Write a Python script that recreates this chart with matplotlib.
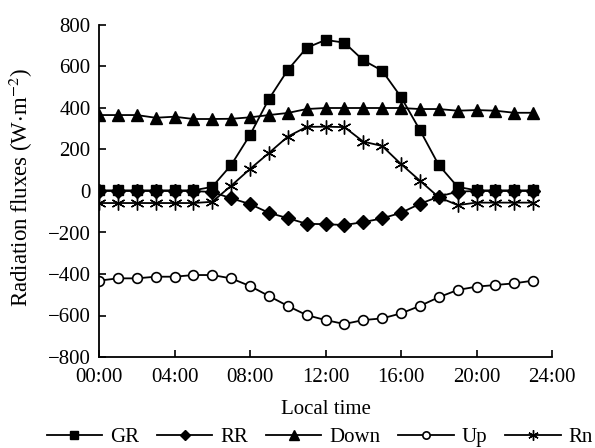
import matplotlib
matplotlib.use("Agg")
import matplotlib.pyplot as plt

plt.rcParams['font.family'] = ['Liberation Serif', 'DejaVu Serif']
plt.rcParams['mathtext.fontset'] = 'stix'

# hourly values, 00:00 .. 23:00
hours = list(range(24))
gr = [3, 3, 3, 3, 3, 3, 20, 125, 270, 443, 583, 690, 728, 715,
      630, 580, 453, 294, 125, 20, 3, 3, 3, 3]
rr = [0, 0, 0, 0, 0, 0, -5, -35, -63, -105, -131, -158, -160, -164,
      -150, -132, -105, -62, -27, -3, 0, 0, 0, 0]
down = [366, 366, 366, 353, 358, 347, 347, 348, 355, 366, 376, 395,
        400, 400, 400, 400, 400, 395, 395, 387, 390, 387, 377, 377]
up = [-432, -421, -421, -413, -413, -405, -405, -421, -458, -506, -554,
      -598, -622, -641, -622, -614, -590, -554, -512, -477, -461, -453,
      -445, -432]
rn = [-58, -58, -58, -58, -58, -58, -52, 25, 106, 183, 262, 309, 310,
      308, 238, 217, 130, 50, -30, -68, -56, -56, -56, -56]

xticks = [0, 4, 8, 12, 16, 20, 24]
xtick_labels = ['00:00', '04:00', '08:00', '12:00', '16:00', '20:00', '24:00']
yticks = list(range(-800, 801, 200))

fs = 15
fig = plt.figure(figsize=(5.95, 4.48), dpi=100)
ax = fig.add_axes([99 / 595, 1 - 357 / 448, 453 / 595, 332 / 448])

lw = 1.3
ax.plot(hours, gr, color='black', lw=lw, marker='s', ms=7.5, label='GR')
ax.plot(hours, rr, color='black', lw=lw, marker='D', ms=7, label='RR')
ax.plot(hours, down, color='black', lw=lw, marker='^', ms=9, label='Down')
ax.plot(hours, up, color='black', lw=lw, marker='o', ms=7, mfc='white',
        mew=1.2, label='Up')
ax.plot(hours, rn, color='black', lw=lw, marker=(6, 2, 0), ms=10, mew=1.0,
        label='Rn')

ax.set_xlim(0, 24)
ax.set_ylim(-800, 800)
ax.set_xticks(xticks)
ax.set_xticklabels(xtick_labels)
ax.set_yticks(yticks)
ax.set_yticklabels([str(v).replace('-', '\u2212') for v in yticks])
ax.tick_params(direction='in', length=5, width=1.2, labelsize=fs)
ax.tick_params(axis='x', pad=8)
ax.tick_params(axis='y', pad=6)
for s in ['top', 'right']:
    ax.spines[s].set_visible(False)
for s in ['left', 'bottom']:
    ax.spines[s].set_linewidth(1.3)

ax.set_xlabel('Local time', fontsize=fs, labelpad=9)
ax.set_ylabel(r'Radiation fluxes (W$\cdot$m$^{-2}$)', fontsize=16.5)
ax.yaxis.set_label_coords(-0.142, 0.51)

fig.legend(*ax.get_legend_handles_labels(), loc='center',
           bbox_to_anchor=(320 / 595, 1 - 437 / 448), ncol=5,
           frameon=False, fontsize=fs, handlelength=2.65, handletextpad=0.4,
           columnspacing=0.85, markerscale=0.75, borderpad=0, borderaxespad=0)

fig.savefig('out.png', dpi=100)
